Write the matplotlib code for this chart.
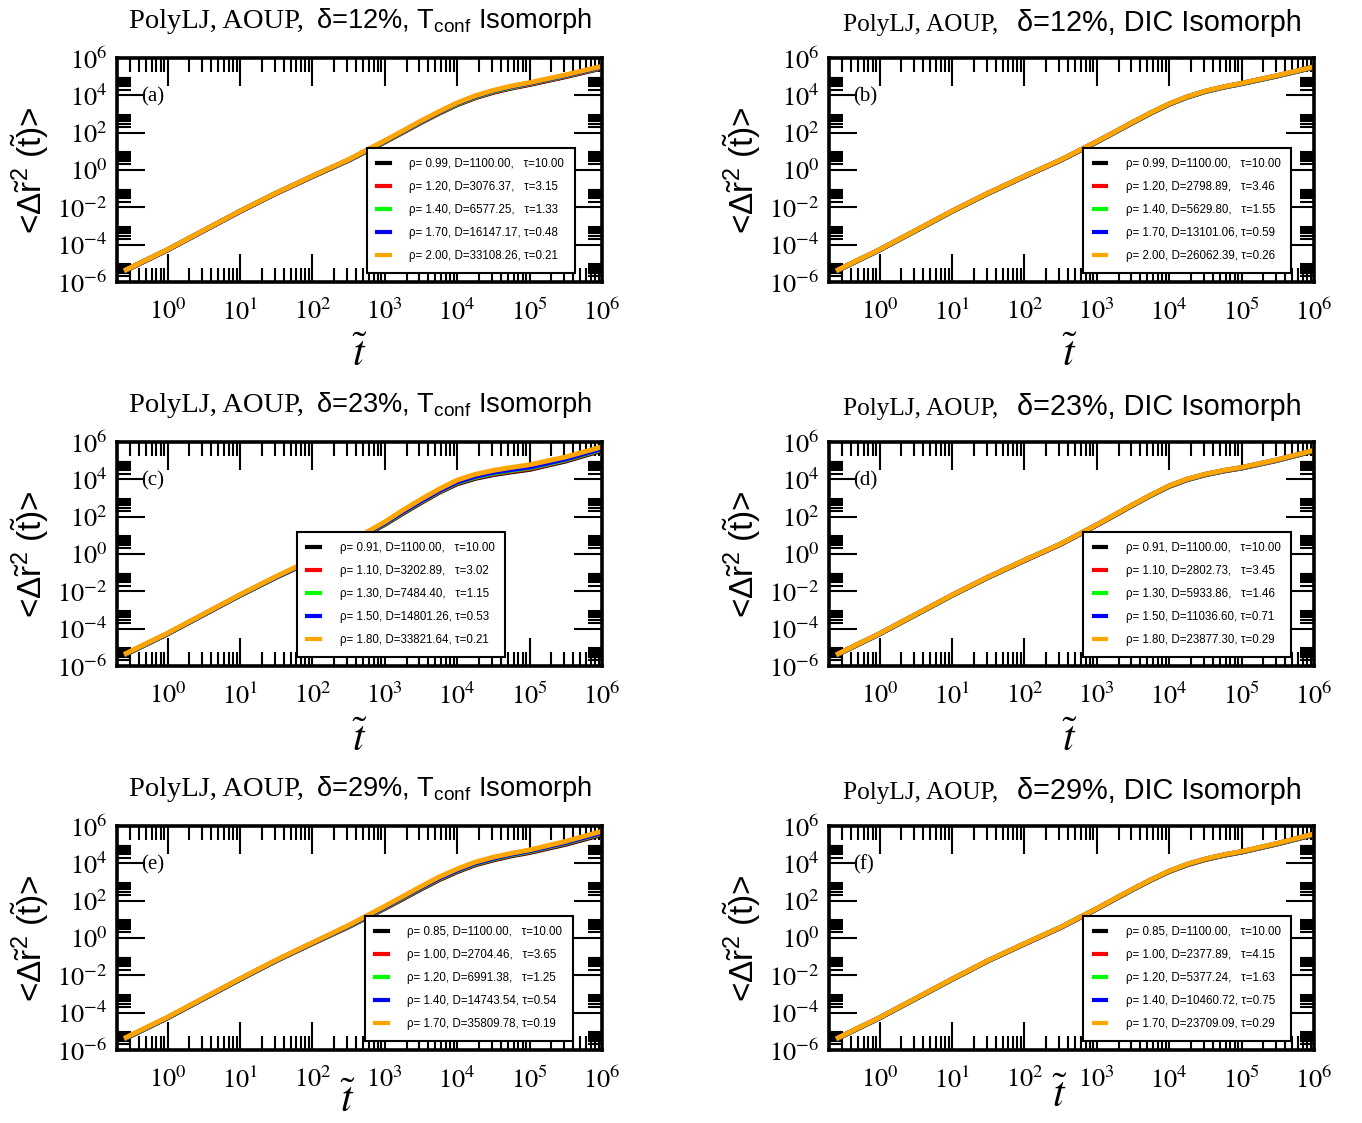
# -*- coding: utf-8 -*-
"""
MSD along the isomorphs, PolyLJ AOUP, three polydispersities
"""
#%% Import libraries
import numpy as np
import matplotlib
matplotlib.use("Agg")
import matplotlib.pyplot as plt
import matplotlib.ticker as tck
from matplotlib.lines import Line2D

plt.rcParams['font.family'] = ['Liberation Serif', 'DejaVu Serif']
plt.rcParams['mathtext.fontset'] = 'stix'

#%% Data
# reduced time, shared by all curves
t_red = [0.25, 1.0, 3.16, 10.0, 31.6, 100.0, 316.0, 1.0e3, 1.78e3, 3.16e3, 5.62e3,
         1.0e4, 1.78e4, 3.16e4, 5.62e4, 1.0e5, 3.16e5, 1.0e6]

# log10 of the reduced MSD, one row per state point (black, red, green, blue, orange)
msd_a = [[-5.42, -4.28, -3.25, -2.22, -1.25, -0.35, 0.52, 1.50, 2.02, 2.54, 3.04, 3.50, 3.87, 4.16, 4.39, 4.58, 5.00, 5.46],
         [-5.42, -4.28, -3.25, -2.22, -1.25, -0.35, 0.52, 1.51, 2.03, 2.56, 3.06, 3.52, 3.89, 4.18, 4.41, 4.60, 5.02, 5.48],
         [-5.41, -4.27, -3.24, -2.21, -1.24, -0.34, 0.53, 1.53, 2.05, 2.58, 3.08, 3.54, 3.92, 4.21, 4.44, 4.63, 5.05, 5.51],
         [-5.41, -4.27, -3.24, -2.21, -1.24, -0.33, 0.54, 1.55, 2.07, 2.60, 3.10, 3.57, 3.95, 4.24, 4.47, 4.65, 5.07, 5.53],
         [-5.40, -4.26, -3.23, -2.20, -1.23, -0.32, 0.56, 1.57, 2.10, 2.63, 3.13, 3.60, 3.98, 4.27, 4.50, 4.68, 5.10, 5.56]]
msd_b = [[-5.42, -4.28, -3.25, -2.22, -1.25, -0.35, 0.52, 1.50, 2.02, 2.54, 3.05, 3.52, 3.90, 4.20, 4.43, 4.62, 5.04, 5.50],
         [-5.42, -4.28, -3.25, -2.22, -1.25, -0.35, 0.52, 1.51, 2.03, 2.55, 3.06, 3.53, 3.91, 4.21, 4.44, 4.63, 5.05, 5.51],
         [-5.42, -4.28, -3.25, -2.22, -1.25, -0.34, 0.53, 1.51, 2.03, 2.55, 3.06, 3.53, 3.91, 4.21, 4.44, 4.63, 5.05, 5.51],
         [-5.41, -4.27, -3.24, -2.21, -1.24, -0.34, 0.53, 1.52, 2.04, 2.56, 3.07, 3.54, 3.92, 4.22, 4.45, 4.64, 5.06, 5.52],
         [-5.40, -4.26, -3.23, -2.20, -1.23, -0.33, 0.54, 1.53, 2.05, 2.57, 3.08, 3.55, 3.93, 4.23, 4.46, 4.65, 5.07, 5.53]]
msd_c = [[-5.42, -4.28, -3.25, -2.22, -1.25, -0.35, 0.52, 1.58, 2.18, 2.75, 3.30, 3.76, 4.05, 4.25, 4.40, 4.53, 4.98, 5.55],
         [-5.41, -4.27, -3.24, -2.21, -1.24, -0.34, 0.54, 1.61, 2.21, 2.78, 3.33, 3.80, 4.09, 4.29, 4.44, 4.57, 5.02, 5.59],
         [-5.41, -4.27, -3.24, -2.21, -1.24, -0.33, 0.55, 1.63, 2.24, 2.81, 3.36, 3.83, 4.12, 4.33, 4.48, 4.61, 5.05, 5.62],
         [-5.40, -4.26, -3.23, -2.20, -1.23, -0.32, 0.57, 1.66, 2.27, 2.84, 3.39, 3.86, 4.16, 4.37, 4.52, 4.65, 5.09, 5.65],
         [-5.38, -4.24, -3.21, -2.18, -1.20, -0.28, 0.62, 1.72, 2.35, 2.93, 3.48, 3.96, 4.27, 4.48, 4.64, 4.78, 5.20, 5.74]]
msd_d = [[-5.42, -4.28, -3.25, -2.22, -1.25, -0.35, 0.52, 1.55, 2.08, 2.62, 3.14, 3.62, 3.98, 4.24, 4.44, 4.60, 5.02, 5.52],
         [-5.42, -4.28, -3.25, -2.22, -1.25, -0.35, 0.52, 1.55, 2.09, 2.63, 3.15, 3.63, 3.99, 4.25, 4.45, 4.61, 5.03, 5.53],
         [-5.42, -4.28, -3.25, -2.22, -1.25, -0.34, 0.53, 1.56, 2.09, 2.63, 3.15, 3.64, 4.00, 4.26, 4.46, 4.62, 5.04, 5.54],
         [-5.41, -4.27, -3.24, -2.21, -1.24, -0.34, 0.53, 1.56, 2.10, 2.64, 3.16, 3.65, 4.01, 4.27, 4.47, 4.63, 5.05, 5.55],
         [-5.40, -4.26, -3.23, -2.20, -1.23, -0.33, 0.54, 1.57, 2.11, 2.65, 3.17, 3.66, 4.02, 4.28, 4.48, 4.64, 5.06, 5.56]]
msd_e = [[-5.42, -4.28, -3.25, -2.22, -1.22, -0.30, 0.60, 1.58, 2.10, 2.62, 3.12, 3.55, 3.92, 4.18, 4.40, 4.58, 5.02, 5.55],
         [-5.41, -4.27, -3.24, -2.21, -1.21, -0.29, 0.62, 1.60, 2.13, 2.65, 3.15, 3.58, 3.95, 4.21, 4.43, 4.61, 5.06, 5.59],
         [-5.41, -4.27, -3.24, -2.21, -1.21, -0.28, 0.63, 1.62, 2.16, 2.68, 3.18, 3.61, 3.98, 4.24, 4.46, 4.64, 5.09, 5.62],
         [-5.40, -4.26, -3.23, -2.20, -1.20, -0.27, 0.65, 1.65, 2.19, 2.71, 3.21, 3.64, 4.01, 4.27, 4.49, 4.67, 5.12, 5.65],
         [-5.38, -4.24, -3.21, -2.18, -1.18, -0.25, 0.68, 1.70, 2.23, 2.76, 3.27, 3.70, 4.07, 4.33, 4.54, 4.72, 5.18, 5.72]]
msd_f = [[-5.42, -4.28, -3.25, -2.22, -1.22, -0.32, 0.56, 1.56, 2.08, 2.60, 3.10, 3.56, 3.92, 4.20, 4.42, 4.60, 5.04, 5.54],
         [-5.42, -4.28, -3.25, -2.22, -1.22, -0.32, 0.56, 1.56, 2.09, 2.61, 3.11, 3.57, 3.93, 4.21, 4.43, 4.61, 5.05, 5.55],
         [-5.42, -4.28, -3.25, -2.22, -1.22, -0.31, 0.57, 1.57, 2.09, 2.61, 3.11, 3.57, 3.94, 4.22, 4.44, 4.62, 5.06, 5.56],
         [-5.41, -4.27, -3.24, -2.21, -1.21, -0.31, 0.57, 1.57, 2.10, 2.62, 3.12, 3.58, 3.95, 4.23, 4.45, 4.63, 5.07, 5.57],
         [-5.40, -4.26, -3.23, -2.20, -1.20, -0.30, 0.58, 1.58, 2.11, 2.63, 3.13, 3.59, 3.96, 4.24, 4.46, 4.64, 5.08, 5.58]]

# legend values: density, D and tau of each state point
rho_a = [0.99, 1.20, 1.40, 1.70, 2.00]
D_a = [1100.00, 3076.37, 6577.25, 16147.17, 33108.26]
tau_a = [10.00, 3.15, 1.33, 0.48, 0.21]
rho_b = [0.99, 1.20, 1.40, 1.70, 2.00]
D_b = [1100.00, 2798.89, 5629.80, 13101.06, 26062.39]
tau_b = [10.00, 3.46, 1.55, 0.59, 0.26]
rho_c = [0.91, 1.10, 1.30, 1.50, 1.80]
D_c = [1100.00, 3202.89, 7484.40, 14801.26, 33821.64]
tau_c = [10.00, 3.02, 1.15, 0.53, 0.21]
rho_d = [0.91, 1.10, 1.30, 1.50, 1.80]
D_d = [1100.00, 2802.73, 5933.86, 11036.60, 23877.30]
tau_d = [10.00, 3.45, 1.46, 0.71, 0.29]
rho_e = [0.85, 1.00, 1.20, 1.40, 1.70]
D_e = [1100.00, 2704.46, 6991.38, 14743.54, 35809.78]
tau_e = [10.00, 3.65, 1.25, 0.54, 0.19]
rho_f = [0.85, 1.00, 1.20, 1.40, 1.70]
D_f = [1100.00, 2377.89, 5377.24, 10460.72, 23709.09]
tau_f = [10.00, 4.15, 1.63, 0.75, 0.29]

deltas = ["12%", "23%", "29%"]
letters = ["a", "b", "c", "d", "e", "f"]
colors = ["black", "#ff0000", "#00ff00", "#0000ff", "#ffa500"]

#%% Layout (pixels of the 1362x1123 picture)
FW, FH = 1362, 1123
COL_X = [117, 829]
ROW_Y = [58, 442, 826]
AW, AH = 485, 224
LEG_X = [[0.515, 0.524], [0.371, 0.524], [0.511, 0.524]]  # legend left edge, axes fraction
YLAB_X = [30, 742]
SANS = ['Liberation Sans', 'DejaVu Sans']

plt.rcParams['mathtext.rm'] = 'Liberation Sans'
plt.rcParams['mathtext.it'] = 'Liberation Sans:italic'


def sci_label(v, pos):
    return r'$10^{%d}$' % int(round(np.log10(v)))


def make_panel(fig, x0, y0, msd, rho, D, tau, lx, letter):
    ax = fig.add_axes([x0/FW, 1 - (y0 + AH)/FH, AW/FW, AH/FH])
    for i in range(len(msd)):
        ax.plot(t_red, 10**np.array(msd[i]), color=colors[i], lw=3.5,
                solid_capstyle='butt', solid_joinstyle='round')
    ax.set_xscale('log')
    ax.set_yscale('log')
    ax.set_xlim(0.2, 1e6)
    ax.set_ylim(1e-6, 1e6)

    # xmgrace style ticks: inward, on all four sides
    ax.xaxis.set_major_locator(tck.FixedLocator([10.0**e for e in range(0, 7)]))
    ax.xaxis.set_minor_locator(tck.FixedLocator([m*10.0**e for e in range(-1, 6) for m in range(2, 10)]))
    ax.yaxis.set_major_locator(tck.FixedLocator([10.0**e for e in range(-6, 7, 2)]))
    ax.yaxis.set_minor_locator(tck.FixedLocator([m*10.0**e for e in range(-6, 6, 2) for m in range(2, 10)]))
    ax.xaxis.set_major_formatter(tck.FuncFormatter(sci_label))
    ax.yaxis.set_major_formatter(tck.FuncFormatter(sci_label))
    ax.xaxis.set_minor_formatter(tck.NullFormatter())
    ax.yaxis.set_minor_formatter(tck.NullFormatter())
    ax.tick_params(which='both', direction='in', top=True, right=True, width=1.5, labelsize=19)
    ax.tick_params(which='major', length=20)
    ax.tick_params(which='minor', length=10)
    ax.tick_params(axis='x', pad=12)
    ax.tick_params(axis='y', pad=7)
    for sp in ax.spines.values():
        sp.set_linewidth(2.6)

    # legend, proxies with thinner lines
    handles = [Line2D([], [], color=c, lw=3) for c in colors]
    labels = []
    for i in range(len(rho)):
        gap = ",   " if D[i] < 10000 else ", "
        labels.append(f"ρ= {rho[i]:.2f}, D={D[i]:.2f}{gap}τ={tau[i]:.2f}")
    leg = ax.legend(handles, labels, loc='upper left', bbox_to_anchor=(lx, 0.598),
                    borderaxespad=0, fancybox=False, edgecolor='black', framealpha=1,
                    handlelength=1.1, handletextpad=1.7, labelspacing=0.95, borderpad=0.9,
                    prop={'family': SANS, 'size': 8.3})
    leg.get_frame().set_linewidth(1.5)

    ax.text(0.049, 0.826, f"({letter})", transform=ax.transAxes, fontsize=15,
            ha='left', va='center')
    return ax


#%% Figure
fig = plt.figure(figsize=(FW/100, FH/100), dpi=100)

all_msd = [[msd_a, msd_b], [msd_c, msd_d], [msd_e, msd_f]]
all_rho = [[rho_a, rho_b], [rho_c, rho_d], [rho_e, rho_f]]
all_D = [[D_a, D_b], [D_c, D_d], [D_e, D_f]]
all_tau = [[tau_a, tau_b], [tau_c, tau_d], [tau_e, tau_f]]

xlab_pos = [[(360, 356), (1070, 356)], [(360, 741), (1070, 741)], [(348, 1102), (1060, 1097)]]

for r in range(3):
    for c in range(2):
        make_panel(fig, COL_X[c], ROW_Y[r], all_msd[r][c], all_rho[r][c], all_D[r][c],
                   all_tau[r][c], LEG_X[r][c], letters[2*r + c])

        # y label
        fig.text(YLAB_X[c]/FW, 1 - (ROW_Y[r] + 112)/FH,
                 r'<$\Delta\tilde{\mathrm{r}}^{2}$ ($\tilde{\mathrm{t}}$)>',
                 rotation=90, ha='center', va='center', fontsize=24,
                 family=SANS, math_fontfamily='custom')
        # x label
        xl, yl = xlab_pos[r][c]
        fig.text(xl/FW, 1 - yl/FH, r'$\tilde{t}$', ha='center', va='center', fontsize=30)

        # title: serif part + sans part
        if c == 0:
            split, gap, base, s1, s2 = 304, 12, ROW_Y[r] - 30, 20.5, 19.6
            rest = r'δ=%s, T$_{\mathrm{conf}}$ Isomorph' % deltas[r]
        else:
            split, gap, base, s1, s2 = 998, 19, ROW_Y[r] - 27, 18.2, 20.8
            rest = 'δ=%s, DIC Isomorph' % deltas[r]
        fig.text(split/FW, 1 - base/FH, "PolyLJ, AOUP,", ha='right', va='baseline', fontsize=s1)
        fig.text((split + gap)/FW, 1 - base/FH, rest, ha='left', va='baseline', fontsize=s2,
                 family=SANS, math_fontfamily='custom')

fig.savefig("out.png", dpi=100)
